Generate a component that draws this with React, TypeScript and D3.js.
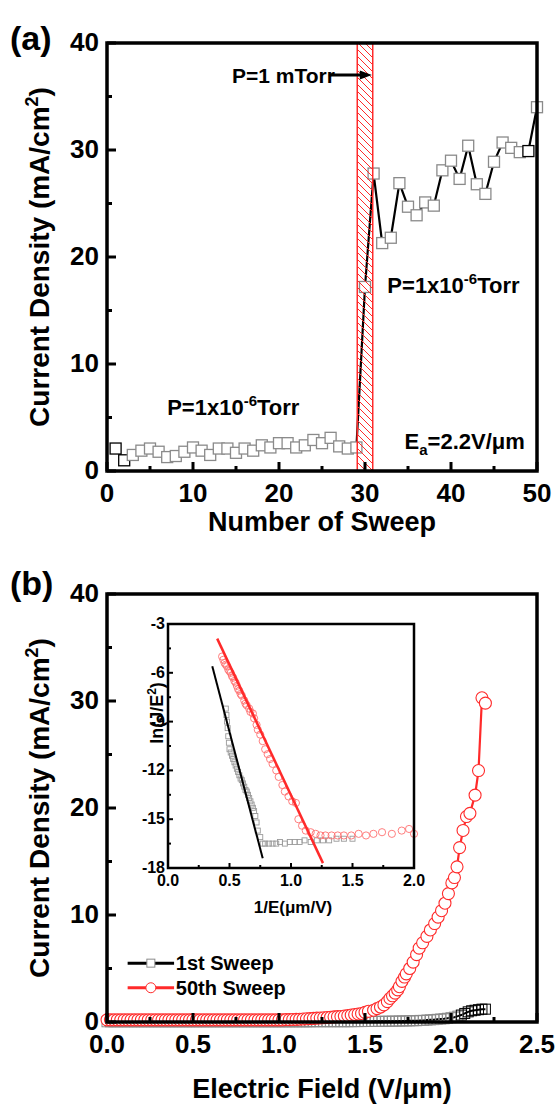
import React from 'react';
import * as d3 from 'd3';

const FONT = '"Liberation Sans", Arial, Helvetica, sans-serif';

// ---------- Panel (a): current density vs sweep number ----------
const sweepNumber = [
  1, 2, 3, 4, 5, 6, 7, 8, 9, 10, 11, 12, 13, 14, 15, 16, 17, 18, 19, 20, 21, 22, 23, 24, 25,
  26, 27, 28, 29, 30, 31, 32, 33, 34, 35, 36, 37, 38, 39, 40, 41, 42, 43, 44, 45, 46, 47, 48, 49, 50,
];
const sweepDensity = [
  2.1, 1.0, 1.5, 1.9, 2.1, 1.8, 1.3, 1.4, 1.8, 2.2, 1.9, 1.5, 2.1, 2.1, 1.7, 2.1, 1.9, 2.4, 2.2, 2.6,
  2.6, 2.2, 2.4, 2.9, 2.6, 3.1, 2.3, 2.1, 2.2, 17.2, 27.8, 21.3, 21.8, 26.9, 24.7, 23.9, 25.1, 24.8,
  28.1, 29.0, 27.3, 30.4, 26.8, 25.9, 28.9, 30.7, 30.2, 29.8, 29.9, 34.0,
];
const sweepTicks = [0, 10, 20, 30, 40, 50];
const sweepMinor = [5, 15, 25, 35, 45];
const densityTicks = [0, 10, 20, 30, 40];
const densityMinor = [5, 15, 25, 35];
const mTorrBand = [29.1, 30.9];

// ---------- Panel (b): J-E curves ----------
const fieldGrid = [
  0.00, 0.02, 0.04, 0.06, 0.08, 0.10, 0.12, 0.14, 0.16, 0.18,
  0.20, 0.22, 0.24, 0.26, 0.28, 0.30, 0.32, 0.34, 0.36, 0.38,
  0.40, 0.42, 0.44, 0.46, 0.48, 0.50, 0.52, 0.54, 0.56, 0.58,
  0.60, 0.62, 0.64, 0.66, 0.68, 0.70, 0.72, 0.74, 0.76, 0.78,
  0.80, 0.82, 0.84, 0.86, 0.88, 0.90, 0.92, 0.94, 0.96, 0.98,
  1.00, 1.02, 1.04, 1.06, 1.08, 1.10, 1.12, 1.14, 1.16, 1.18,
  1.20, 1.22, 1.24, 1.26, 1.28, 1.30, 1.32, 1.34, 1.36, 1.38,
  1.40, 1.42, 1.44, 1.46, 1.48, 1.50, 1.52, 1.54, 1.56, 1.58,
  1.60, 1.62, 1.64, 1.66, 1.68, 1.70, 1.72, 1.74, 1.76, 1.78,
  1.80, 1.82, 1.84, 1.86, 1.88, 1.90, 1.92, 1.94, 1.96, 1.98,
  2.00, 2.02, 2.04, 2.06, 2.08, 2.10, 2.12, 2.14, 2.16, 2.18,
  2.20,
];
const density1st = [
  0.02, 0.02, 0.02, 0.02, 0.02, 0.02, 0.02, 0.02, 0.02, 0.02,
  0.02, 0.02, 0.02, 0.02, 0.02, 0.02, 0.02, 0.02, 0.02, 0.02,
  0.02, 0.02, 0.02, 0.02, 0.02, 0.02, 0.02, 0.02, 0.02, 0.02,
  0.02, 0.02, 0.02, 0.02, 0.02, 0.02, 0.02, 0.02, 0.02, 0.02,
  0.02, 0.02, 0.02, 0.02, 0.02, 0.02, 0.02, 0.02, 0.02, 0.02,
  0.02, 0.02, 0.02, 0.02, 0.02, 0.02, 0.02, 0.02, 0.02, 0.02,
  0.03, 0.03, 0.03, 0.03, 0.03, 0.03, 0.03, 0.03, 0.03, 0.03,
  0.03, 0.03, 0.04, 0.04, 0.04, 0.05, 0.05, 0.05, 0.06, 0.06,
  0.06, 0.07, 0.07, 0.08, 0.08, 0.09, 0.10, 0.10, 0.11, 0.12,
  0.12, 0.15, 0.15, 0.18, 0.20, 0.22, 0.25, 0.28, 0.30, 0.35,
  0.40, 0.45, 0.55, 0.65, 0.80, 0.95, 1.05, 1.10, 1.15, 1.20,
  1.20,
];
const field50th = [
  0.00, 0.02, 0.04, 0.06, 0.08, 0.10, 0.12, 0.14, 0.16, 0.18,
  0.20, 0.22, 0.24, 0.26, 0.28, 0.30, 0.32, 0.34, 0.36, 0.38,
  0.40, 0.42, 0.44, 0.46, 0.48, 0.50, 0.52, 0.54, 0.56, 0.58,
  0.60, 0.62, 0.64, 0.66, 0.68, 0.70, 0.72, 0.74, 0.76, 0.78,
  0.80, 0.82, 0.84, 0.86, 0.88, 0.90, 0.92, 0.94, 0.96, 0.98,
  1.00, 1.02, 1.04, 1.06, 1.08, 1.10, 1.12, 1.14, 1.16, 1.18,
  1.20, 1.22, 1.24, 1.26, 1.28, 1.30, 1.32, 1.34, 1.36, 1.38,
  1.40, 1.42, 1.44, 1.46, 1.48, 1.50, 1.52, 1.55, 1.57, 1.59,
  1.61, 1.63, 1.645, 1.66, 1.675, 1.69, 1.70, 1.715, 1.73, 1.74,
  1.76, 1.78, 1.80, 1.815, 1.835, 1.86, 1.88, 1.905, 1.925, 1.945,
  1.965, 1.985, 2.005, 2.02, 2.035, 2.05, 2.07, 2.09, 2.11, 2.14,
  2.16, 2.18, 2.20,
];
const density50th = [
  0.20, 0.20, 0.20, 0.20, 0.20, 0.20, 0.20, 0.20, 0.20, 0.20,
  0.20, 0.20, 0.20, 0.20, 0.20, 0.20, 0.20, 0.20, 0.20, 0.20,
  0.20, 0.20, 0.20, 0.20, 0.20, 0.20, 0.20, 0.20, 0.20, 0.20,
  0.20, 0.20, 0.20, 0.20, 0.20, 0.20, 0.20, 0.20, 0.20, 0.20,
  0.20, 0.20, 0.20, 0.20, 0.20, 0.20, 0.20, 0.20, 0.20, 0.20,
  0.20, 0.20, 0.22, 0.22, 0.24, 0.25, 0.26, 0.28, 0.30, 0.32,
  0.34, 0.36, 0.38, 0.40, 0.42, 0.45, 0.48, 0.50, 0.52, 0.56,
  0.60, 0.65, 0.70, 0.75, 0.80, 0.90, 1.00, 1.10, 1.25, 1.40,
  1.60, 1.90, 2.20, 2.45, 2.70, 3.00, 3.30, 3.80, 4.20, 4.50,
  5.00, 5.60, 6.30, 6.90, 7.40, 8.00, 8.60, 9.20, 9.80, 10.4,
  11.1, 12.0, 13.0, 13.5, 14.5, 16.3, 17.9, 19.2, 19.5, 21.2,
  23.5, 30.3, 29.8,
];
const fieldTicks = [0, 0.5, 1.0, 1.5, 2.0, 2.5];
const fieldTickLabels = ['0.0', '0.5', '1.0', '1.5', '2.0', '2.5'];
const fieldMinor = [0.25, 0.75, 1.25, 1.75, 2.25];

// ---------- Inset: Fowler-Nordheim plot ----------
const fn50X = [
  0.44, 0.45, 0.46, 0.47, 0.48, 0.49, 0.50, 0.51, 0.52, 0.53, 0.54, 0.55, 0.56, 0.57, 0.58, 0.59,
  0.60, 0.62, 0.63, 0.64, 0.66, 0.67, 0.69, 0.70, 0.72, 0.73, 0.75, 0.77, 0.79, 0.81, 0.83, 0.85,
  0.88, 0.90, 0.93, 0.95, 0.98, 1.01, 1.04, 1.06, 1.09, 1.12, 1.16, 1.20, 1.24, 1.28, 1.33, 1.38,
  1.43, 1.49, 1.55, 1.61, 1.67, 1.74, 1.82, 1.90, 1.96, 2.00,
];
const fn50Y = [
  -5.0, -5.2, -5.4, -5.5, -5.6, -5.8, -5.9, -6.0, -6.2, -6.3, -6.5, -6.6, -6.8, -7.0, -7.1, -7.3,
  -7.4, -7.7, -7.9, -8.0, -8.2, -8.4, -8.5, -8.8, -9.2, -9.5, -9.8, -10.2, -10.7, -11.0, -11.3, -11.6,
  -12.0, -12.4, -12.9, -13.3, -13.6, -13.9, -14.0, -15.0, -15.4, -15.7, -15.8, -15.9, -16.0, -16.0, -16.0, -16.0,
  -16.0, -16.0, -15.9, -16.0, -15.9, -15.8, -15.9, -15.7, -15.6, -15.9,
];
const fn1X = [
  0.47, 0.475, 0.48, 0.485, 0.49, 0.495, 0.50, 0.51, 0.52, 0.53, 0.54, 0.55, 0.56, 0.57, 0.58, 0.59,
  0.60, 0.61, 0.62, 0.63, 0.64, 0.65, 0.66, 0.67, 0.68, 0.69, 0.70, 0.71, 0.72, 0.73, 0.75, 0.77,
  0.79, 0.82, 0.85, 0.88, 0.91, 0.95, 0.99, 1.03, 1.07, 1.11, 1.16, 1.21, 1.26, 1.31, 1.37, 1.43, 1.50,
];
const fn1Y = [
  -8.2, -8.6, -9.0, -9.4, -9.9, -10.3, -10.7, -10.9, -11.1, -11.3, -11.5, -11.7, -11.9, -12.1, -12.3, -12.5,
  -12.6, -12.8, -13.0, -13.2, -13.3, -13.5, -13.7, -13.9, -14.1, -14.3, -14.5, -14.8, -15.2, -15.7, -16.1, -16.5,
  -16.5, -16.5, -16.5, -16.5, -16.4, -16.5, -16.4, -16.4, -16.4, -16.3, -16.4, -16.3, -16.3, -16.3, -16.2, -16.2, -16.2,
];
const fit1X = [0.36, 0.77];
const fit1Y = [-5.6, -17.4];
const fit50X = [0.40, 1.26];
const fit50Y = [-3.9, -17.7];
const insetXTicks = [0, 0.5, 1.0, 1.5, 2.0];
const insetXLabels = ['0.0', '0.5', '1.0', '1.5', '2.0'];
const insetXMinor = [0.25, 0.75, 1.25, 1.75];
const insetYTicks = [-3, -6, -9, -12, -15, -18];
const insetYMinor = [-4.5, -7.5, -10.5, -13.5, -16.5];

const RED = '#ff2a2a';
const GRAY = '#8a8a8a';

export default function App() {
  const xA = d3.scaleLinear().domain([0, 50]).range([107, 537]);
  const yA = d3.scaleLinear().domain([0, 40]).range([471, 43]);
  const xB = d3.scaleLinear().domain([0, 2.5]).range([107, 537]);
  const yB = d3.scaleLinear().domain([0, 40]).range([1022, 594]);
  const xI = d3.scaleLinear().domain([0, 2]).range([168, 414]);
  const yI = d3.scaleLinear().domain([-18, -3]).range([868, 624]);

  const lineA = d3.line<number>().x((d) => xA(sweepNumber[d])).y((d) => yA(sweepDensity[d]));
  const idxA = sweepNumber.map((_, i) => i);
  const line1st = d3.line<number>().x((i) => xB(fieldGrid[i])).y((i) => yB(density1st[i]));
  const line50 = d3.line<number>().x((i) => xB(field50th[i])).y((i) => yB(density50th[i]));

  const txt = { fontFamily: FONT, fontWeight: 700, fill: '#000' } as const;

  const frame = (x0: number, x1: number, y0: number, y1: number, sw: number) => (
    <rect x={x0} y={y1} width={x1 - x0} height={y0 - y1} fill="none" stroke="#000" strokeWidth={sw} />
  );

  const mainTicks = (
    xs: any,
    ys: any,
    xMaj: number[],
    xMin: number[],
    yMaj: number[],
    yMin: number[],
    xLabels: string[],
    key: string
  ) => {
    const y0 = ys.range()[0];
    const x0 = xs.range()[0];
    return (
      <g key={key}>
        {xMaj.map((v) => (
          <line key={'xM' + v} x1={xs(v)} x2={xs(v)} y1={y0} y2={y0 - 9} stroke="#000" strokeWidth={3} />
        ))}
        {xMin.map((v) => (
          <line key={'xm' + v} x1={xs(v)} x2={xs(v)} y1={y0} y2={y0 - 5} stroke="#000" strokeWidth={3} />
        ))}
        {yMaj.map((v) => (
          <line key={'yM' + v} x1={x0} x2={x0 + 9} y1={ys(v)} y2={ys(v)} stroke="#000" strokeWidth={3} />
        ))}
        {yMin.map((v) => (
          <line key={'ym' + v} x1={x0} x2={x0 + 5} y1={ys(v)} y2={ys(v)} stroke="#000" strokeWidth={3} />
        ))}
        {xMaj.map((v, i) => (
          <text key={'xl' + v} x={xs(v)} y={y0 + 31} textAnchor="middle" fontSize={26} style={txt}>
            {xLabels[i]}
          </text>
        ))}
        {yMaj.map((v) => (
          <text key={'yl' + v} x={x0 - 8} y={ys(v) + 8} textAnchor="end" fontSize={26} style={txt}>
            {String(v)}
          </text>
        ))}
      </g>
    );
  };

  const sq = (cx: number, cy: number, s: number, stroke: string, fill: string, sw: number, key: string) => (
    <rect key={key} x={cx - s / 2} y={cy - s / 2} width={s} height={s} fill={fill} stroke={stroke} strokeWidth={sw} />
  );

  return (
    <svg
      width={555}
      height={1110}
      viewBox="0 0 555 1110"
      style={{ position: 'absolute', left: 0, top: 0, background: '#fff' }}
    >
      <defs>
        <pattern id="hatch" patternUnits="userSpaceOnUse" width={7} height={7}>
          <path d="M-1,-1 L8,8 M-4,3 L4,11 M3,-4 L11,4" stroke={RED} strokeWidth={1} />
        </pattern>
      </defs>
      <rect x={0} y={0} width={555} height={1110} fill="#fff" />

      {/* ================= Panel (a) ================= */}
      <text x={10} y={50} fontSize={34} style={txt}>(a)</text>
      <path d={lineA(idxA) || ''} fill="none" stroke="#000" strokeWidth={2.2} />
      {sweepNumber.map((n, i) =>
        sq(xA(n), yA(sweepDensity[i]), 11, i < 2 || n === 49 ? '#000' : GRAY, '#fff', 1.3, 'a' + n)
      )}
      <rect
        x={xA(mTorrBand[0])}
        y={yA(40)}
        width={xA(mTorrBand[1]) - xA(mTorrBand[0])}
        height={yA(0) - yA(40)}
        fill="url(#hatch)"
        stroke={RED}
        strokeWidth={1.5}
      />
      {frame(107, 537, 471, 43, 3.5)}
      {mainTicks(xA, yA, sweepTicks, sweepMinor, densityTicks, densityMinor, sweepTicks.map(String), 'ta')}

      {/* annotations (a) */}
      <text x={xA(26.5)} y={yA(36.3)} textAnchor="end" fontSize={21} style={txt}>P=1 mTorr</text>
      <line x1={xA(25.8)} x2={xA(29.6)} y1={yA(37.0)} y2={yA(37.0)} stroke="#000" strokeWidth={3} />
      <path
        d={`M${xA(30.8)},${yA(37.0)} L${xA(29.4)},${yA(37.0) - 4.5} L${xA(29.4)},${yA(37.0) + 4.5} Z`}
        fill="#000"
      />
      <text x={xA(32.6)} y={yA(16.6)} fontSize={22} style={txt}>
        P=1x10<tspan dy={-9} fontSize={15}>-6</tspan>
        <tspan dy={9}>Torr</tspan>
      </text>
      <text x={xA(7.0)} y={yA(5.2)} fontSize={22} style={txt}>
        P=1x10<tspan dy={-9} fontSize={15}>-6</tspan>
        <tspan dy={9}>Torr</tspan>
      </text>
      <text x={xA(34.6)} y={yA(2.1)} fontSize={22} style={txt}>
        E<tspan dy={6} fontSize={15}>a</tspan>
        <tspan dy={-6}>=2.2V/μm</tspan>
      </text>

      <text x={322} y={531} textAnchor="middle" fontSize={27} style={txt}>Number of Sweep</text>
      <text transform={`translate(49,257) rotate(-90)`} textAnchor="middle" fontSize={28} style={txt}>
        Current Density (mA/cm<tspan dy={-11} fontSize={18}>2</tspan>
        <tspan dy={11}>)</tspan>
      </text>

      {/* ================= Panel (b) ================= */}
      <text x={10} y={595} fontSize={34} style={txt}>(b)</text>
      <path d={line1st(fieldGrid.map((_, i) => i)) || ''} fill="none" stroke="#000" strokeWidth={2} />
      {fieldGrid.map((e, i) =>
        sq(xB(e), yB(density1st[i]), 10, e > 2.05 ? '#000' : GRAY, 'none', 1, 'b1' + i)
      )}
      <path d={line50(field50th.map((_, i) => i)) || ''} fill="none" stroke={RED} strokeWidth={2.2} />
      {field50th.map((e, i) => (
        <circle key={'b5' + i} cx={xB(e)} cy={yB(density50th[i])} r={6} fill="#fff" stroke={RED} strokeWidth={1.1} />
      ))}
      {frame(107, 537, 1022, 594, 3.5)}
      {mainTicks(xB, yB, fieldTicks, fieldMinor, densityTicks, densityMinor, fieldTickLabels, 'tb')}

      {/* legend */}
      <line x1={xB(0.12)} x2={xB(0.39)} y1={yB(5.5)} y2={yB(5.5)} stroke="#000" strokeWidth={3} />
      {sq(xB(0.255), yB(5.5), 8, GRAY, '#fff', 1, 'lg1')}
      <text x={xB(0.4)} y={yB(5.5) + 7} fontSize={20} style={txt}>1st Sweep</text>
      <line x1={xB(0.12)} x2={xB(0.39)} y1={yB(3.2)} y2={yB(3.2)} stroke={RED} strokeWidth={3} />
      <circle cx={xB(0.255)} cy={yB(3.2)} r={5} fill="#fff" stroke={RED} strokeWidth={1} />
      <text x={xB(0.4)} y={yB(3.2) + 7} fontSize={20} style={txt}>50th Sweep</text>

      <text x={322} y={1098} textAnchor="middle" fontSize={27} style={txt}>Electric Field (V/μm)</text>
      <text transform={`translate(49,808) rotate(-90)`} textAnchor="middle" fontSize={28} style={txt}>
        Current Density (mA/cm<tspan dy={-11} fontSize={18}>2</tspan>
        <tspan dy={11}>)</tspan>
      </text>

      {/* ================= Inset ================= */}
      <rect x={168} y={624} width={246} height={244} fill="#fff" />
      {fn1X.map((x, i) => sq(xI(x), yI(fn1Y[i]), 5, '#9a9a9a', 'none', 0.9, 'i1' + i))}
      {fn50X.map((x, i) => (
        <circle key={'i5' + i} cx={xI(x)} cy={yI(fn50Y[i])} r={3.6} fill="none" stroke="#ff7070" strokeWidth={0.9} />
      ))}
      <line x1={xI(fit1X[0])} x2={xI(fit1X[1])} y1={yI(fit1Y[0])} y2={yI(fit1Y[1])} stroke="#000" strokeWidth={2} />
      <line x1={xI(fit50X[0])} x2={xI(fit50X[1])} y1={yI(fit50Y[0])} y2={yI(fit50Y[1])} stroke={RED} strokeWidth={2.5} />
      {frame(168, 414, 868, 624, 2.5)}
      {insetXTicks.map((v) => (
        <line key={'ixM' + v} x1={xI(v)} x2={xI(v)} y1={868} y2={863} stroke="#000" strokeWidth={2} />
      ))}
      {insetXMinor.map((v) => (
        <line key={'ixm' + v} x1={xI(v)} x2={xI(v)} y1={868} y2={865} stroke="#000" strokeWidth={2} />
      ))}
      {insetYTicks.map((v) => (
        <line key={'iyM' + v} x1={168} x2={173} y1={yI(v)} y2={yI(v)} stroke="#000" strokeWidth={2} />
      ))}
      {insetYMinor.map((v) => (
        <line key={'iym' + v} x1={168} x2={171} y1={yI(v)} y2={yI(v)} stroke="#000" strokeWidth={2} />
      ))}
      {insetXTicks.map((v, i) => (
        <text key={'ixl' + v} x={xI(v)} y={886} textAnchor="middle" fontSize={16} style={txt}>
          {insetXLabels[i]}
        </text>
      ))}
      {insetYTicks.map((v) => (
        <text key={'iyl' + v} x={165} y={yI(v) + 5} textAnchor="end" fontSize={16} style={txt}>
          {String(v)}
        </text>
      ))}
      <text x={293} y={913} textAnchor="middle" fontSize={17} style={txt}>1/E(μm/V)</text>
      <text transform={`translate(163,713) rotate(-90)`} textAnchor="middle" fontSize={18} style={txt}>
        ln(J/E<tspan dy={-7} fontSize={12}>2</tspan>
        <tspan dy={7}>)</tspan>
      </text>
    </svg>
  );
}
